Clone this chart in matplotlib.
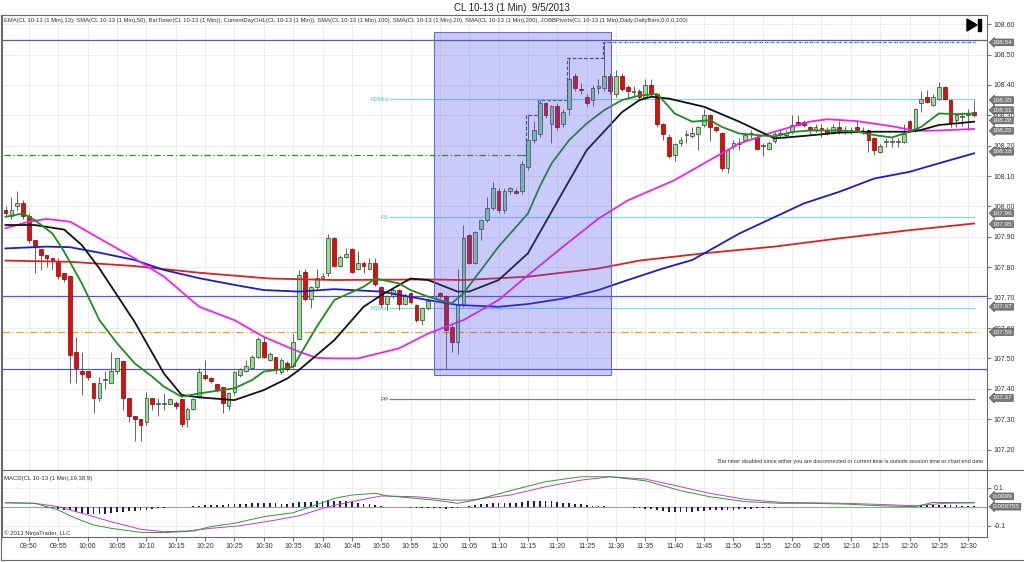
import matplotlib
matplotlib.use("Agg")
import matplotlib.pyplot as plt
from matplotlib.patches import Rectangle, Polygon
from matplotlib.lines import Line2D

plt.rcParams['font.family'] = ['Liberation Sans', 'DejaVu Sans']

# one candle per minute, first bar is 09:46
opens = [107.99, 107.97, 108.00, 108.01, 107.97, 107.89, 107.86, 107.84, 107.83, 107.82,
         107.78, 107.77, 107.52, 107.46, 107.46, 107.42, 107.37, 107.43, 107.42, 107.46,
         107.49, 107.37, 107.31, 107.30, 107.29, 107.37, 107.35, 107.35, 107.35, 107.355,
         107.365, 107.30, 107.335, 107.375, 107.445, 107.435, 107.415, 107.405, 107.345, 107.39,
         107.445, 107.46, 107.47, 107.505, 107.555, 107.495, 107.505, 107.455, 107.485, 107.475,
         107.565, 107.785, 107.695, 107.735, 107.765, 107.78, 107.895, 107.805, 107.835, 107.86,
         107.795, 107.815, 107.795, 107.815, 107.735, 107.68, 107.705, 107.725, 107.68, 107.715,
         107.675, 107.625, 107.665, 107.70, 107.715, 107.705, 107.605, 107.555, 107.675, 107.905,
         107.815, 107.925, 107.955, 107.995, 108.05, 107.99, 108.05, 108.05, 108.05, 108.13,
         108.22, 108.24, 108.34, 108.27, 108.33, 108.27, 108.32, 108.43, 108.385, 108.36,
         108.35, 108.39, 108.39, 108.43, 108.37, 108.43, 108.392, 108.377, 108.38, 108.36,
         108.40, 108.37, 108.27, 108.23, 108.17, 108.21, 108.235, 108.232, 108.24, 108.268,
         108.30, 108.262, 108.243, 108.128, 108.20, 108.207, 108.22, 108.24, 108.23, 108.20,
         108.19, 108.215, 108.24, 108.235, 108.246, 108.279, 108.279, 108.262, 108.25, 108.258,
         108.25, 108.245, 108.262, 108.25, 108.25, 108.262, 108.25, 108.25, 108.224, 108.18,
         108.212, 108.212, 108.212, 108.213, 108.28, 108.25, 108.34, 108.361, 108.334, 108.352,
         108.392, 108.35, 108.286, 108.295, 108.30, 108.31]
highs = [108.00, 108.03, 108.05, 108.02, 107.98, 107.89, 107.86, 107.84, 107.83, 107.83,
         107.78, 107.77, 107.57, 107.52, 107.46, 107.42, 107.44, 107.46, 107.52, 107.50,
         107.49, 107.37, 107.31, 107.30, 107.39, 107.37, 107.37, 107.385, 107.37, 107.36,
         107.365, 107.34, 107.37, 107.47, 107.495, 107.44, 107.415, 107.405, 107.39, 107.46,
         107.47, 107.495, 107.51, 107.57, 107.57, 107.52, 107.505, 107.50, 107.49, 107.58,
         107.79, 107.795, 107.74, 107.795, 107.78, 107.91, 107.90, 107.84, 107.865, 107.865,
         107.855, 107.82, 107.83, 107.83, 107.74, 107.71, 107.735, 107.73, 107.715, 107.72,
         107.68, 107.67, 107.695, 107.71, 107.72, 107.71, 107.61, 107.795, 107.94, 107.91,
         107.92, 107.96, 108.03, 108.08, 108.06, 108.06, 108.065, 108.06, 108.15, 108.30,
         108.28, 108.35, 108.345, 108.335, 108.34, 108.32, 108.49, 108.44, 108.405, 108.37,
         108.40, 108.42, 108.54, 108.44, 108.45, 108.44, 108.40, 108.395, 108.385, 108.42,
         108.42, 108.375, 108.275, 108.24, 108.21, 108.23, 108.25, 108.26, 108.265, 108.32,
         108.305, 108.265, 108.245, 108.19, 108.22, 108.225, 108.245, 108.25, 108.235, 108.21,
         108.215, 108.245, 108.255, 108.25, 108.30, 108.30, 108.285, 108.265, 108.27, 108.27,
         108.26, 108.27, 108.28, 108.265, 108.26, 108.28, 108.26, 108.255, 108.23, 108.205,
         108.225, 108.225, 108.225, 108.27, 108.285, 108.325, 108.38, 108.384, 108.37, 108.41,
         108.395, 108.355, 108.305, 108.31, 108.32, 108.35]
lows = [107.97, 107.96, 107.99, 107.96, 107.88, 107.78, 107.79, 107.80, 107.79, 107.76,
        107.75, 107.42, 107.42, 107.38, 107.43, 107.32, 107.36, 107.40, 107.42, 107.45,
        107.33, 107.29, 107.23, 107.23, 107.28, 107.33, 107.31, 107.33, 107.35, 107.335,
        107.275, 107.275, 107.33, 107.37, 107.43, 107.42, 107.39, 107.32, 107.33, 107.38,
        107.44, 107.455, 107.465, 107.50, 107.50, 107.49, 107.45, 107.45, 107.46, 107.47,
        107.56, 107.69, 107.665, 107.73, 107.76, 107.77, 107.80, 107.80, 107.83, 107.78,
        107.79, 107.78, 107.79, 107.74, 107.67, 107.66, 107.70, 107.66, 107.675, 107.68,
        107.62, 107.61, 107.66, 107.695, 107.70, 107.465, 107.52, 107.515, 107.67, 107.81,
        107.81, 107.89, 107.95, 107.99, 107.98, 107.98, 108.04, 108.04, 108.04, 108.12,
        108.21, 108.23, 108.29, 108.21, 108.25, 108.26, 108.30, 108.38, 108.37, 108.33,
        108.33, 108.37, 108.38, 108.37, 108.36, 108.38, 108.36, 108.36, 108.35, 108.355,
        108.365, 108.26, 108.22, 108.16, 108.15, 108.20, 108.21, 108.225, 108.185, 108.26,
        108.215, 108.245, 108.118, 108.11, 108.19, 108.185, 108.215, 108.225, 108.185, 108.165,
        108.185, 108.21, 108.225, 108.23, 108.24, 108.265, 108.26, 108.24, 108.245, 108.23,
        108.235, 108.24, 108.24, 108.24, 108.24, 108.245, 108.24, 108.18, 108.17, 108.175,
        108.195, 108.195, 108.195, 108.21, 108.245, 108.245, 108.31, 108.34, 108.33, 108.35,
        108.35, 108.26, 108.26, 108.265, 108.25, 108.295]
closes = [107.98, 107.99, 108.01, 107.97, 107.89, 107.87, 107.84, 107.83, 107.82, 107.77,
          107.76, 107.51, 107.47, 107.45, 107.44, 107.37, 107.42, 107.43, 107.46, 107.50,
          107.37, 107.31, 107.30, 107.28, 107.37, 107.35, 107.355, 107.355, 107.365, 107.345,
          107.285, 107.335, 107.365, 107.455, 107.435, 107.425, 107.395, 107.355, 107.385, 107.455,
          107.465, 107.475, 107.505, 107.565, 107.505, 107.515, 107.465, 107.495, 107.465, 107.555,
          107.775, 107.695, 107.735, 107.765, 107.77, 107.895, 107.805, 107.835, 107.845, 107.785,
          107.815, 107.805, 107.815, 107.745, 107.68, 107.705, 107.725, 107.68, 107.705, 107.685,
          107.625, 107.665, 107.69, 107.705, 107.705, 107.595, 107.555, 107.675, 107.895, 107.815,
          107.915, 107.955, 107.995, 108.06, 107.99, 108.05, 108.06, 108.045, 108.14, 108.22,
          108.25, 108.34, 108.30, 108.33, 108.26, 108.31, 108.42, 108.39, 108.383, 108.34,
          108.39, 108.395, 108.43, 108.38, 108.43, 108.385, 108.38, 108.378, 108.36, 108.40,
          108.37, 108.27, 108.24, 108.165, 108.205, 108.22, 108.238, 108.243, 108.262, 108.30,
          108.26, 108.25, 108.128, 108.186, 108.21, 108.209, 108.235, 108.242, 108.19, 108.202,
          108.21, 108.24, 108.242, 108.241, 108.268, 108.268, 108.268, 108.25, 108.26, 108.256,
          108.243, 108.262, 108.245, 108.251, 108.252, 108.25, 108.251, 108.218, 108.186, 108.20,
          108.213, 108.213, 108.213, 108.24, 108.25, 108.32, 108.352, 108.345, 108.361, 108.394,
          108.352, 108.279, 108.30, 108.296, 108.301, 108.30]

# moving averages, read at sample bars
ema13_x = [0, 3, 5, 8, 10, 13, 16, 19, 22, 25, 27, 30, 33, 39, 42, 44, 47, 49, 53, 56,
           61, 63, 67, 69, 72, 76, 78, 84, 89, 91, 93, 96, 99, 102, 105, 108, 111, 113, 114, 117,
           120, 122, 125, 128, 131, 134, 137, 142, 145, 148, 151, 154, 156, 159, 162, 165]
ema13_y = [107.966, 107.977, 107.955, 107.911, 107.851, 107.747, 107.626, 107.55, 107.484, 107.44,
           107.407, 107.374, 107.385, 107.402, 107.429, 107.457, 107.464, 107.473, 107.604, 107.692,
           107.736, 107.763, 107.747, 107.725, 107.703, 107.681, 107.714, 107.868, 107.977, 108.065,
           108.141, 108.218, 108.273, 108.317, 108.35, 108.365, 108.37, 108.328, 108.306, 108.279,
           108.284, 108.262, 108.24, 108.235, 108.23, 108.245, 108.25, 108.25, 108.246, 108.235,
           108.227, 108.246, 108.262, 108.306, 108.304, 108.306]
sma20_x = [0, 5, 10, 13, 16, 22, 27, 30, 33, 39, 44, 48, 50, 56, 61, 64, 69, 72, 77, 79,
           84, 89, 95, 99, 105, 108, 110, 113, 119, 125, 131, 136, 142, 148, 154, 156, 159, 165]
sma20_y = [107.939, 107.939, 107.924, 107.873, 107.796, 107.62, 107.45, 107.38, 107.372, 107.363,
           107.396, 107.434, 107.462, 107.56, 107.67, 107.708, 107.763, 107.758, 107.72, 107.72,
           107.758, 107.846, 108.05, 108.185, 108.31, 108.35, 108.361, 108.355, 108.328, 108.279,
           108.224, 108.232, 108.243, 108.246, 108.246, 108.252, 108.268, 108.279]
sma50_x = [0, 4, 7, 11, 16, 19, 22, 27, 33, 39, 44, 50, 53, 56, 60, 67, 72, 78, 84, 89,
           95, 101, 106, 112, 114, 120, 125, 131, 137, 140, 145, 151, 155, 159, 165]
sma50_y = [107.928, 107.95, 107.959, 107.95, 107.895, 107.862, 107.829, 107.769, 107.67, 107.626,
           107.571, 107.522, 107.502, 107.5, 107.5, 107.533, 107.582, 107.626, 107.692, 107.774,
           107.868, 107.96, 108.02, 108.07, 108.087, 108.153, 108.207, 108.246, 108.279, 108.287,
           108.281, 108.264, 108.249, 108.25, 108.255]
sma100_x = [0, 7, 11, 16, 22, 27, 33, 39, 44, 50, 56, 64, 72, 77, 84, 89, 95, 101, 106, 112,
            117, 125, 136, 142, 148, 154, 159, 165]
sma100_y = [107.862, 107.868, 107.866, 107.848, 107.824, 107.791, 107.764, 107.742, 107.725, 107.72,
            107.728, 107.72, 107.692, 107.676, 107.67, 107.679, 107.697, 107.725, 107.758, 107.796,
            107.824, 107.911, 108.01, 108.048, 108.092, 108.114, 108.142, 108.175]
sma200_x = [0, 11, 22, 33, 45, 56, 72, 78, 89, 101, 108, 119, 131, 142, 154, 165]
sma200_y = [107.822, 107.818, 107.804, 107.782, 107.763, 107.758, 107.76, 107.758, 107.769, 107.796,
            107.822, 107.846, 107.868, 107.895, 107.922, 107.944]

# MACD(19,38,9)
macd_x = [0, 5, 9, 12, 15, 18, 23, 27, 32, 35, 39, 44, 49, 52, 56, 59, 63, 65, 70, 74,
          77, 80, 86, 92, 98, 103, 109, 115, 120, 126, 132, 137, 143, 149, 155, 158, 165]
macd_y = [0.021, 0.018, -0.018, -0.062, -0.097, -0.115, -0.136, -0.138, -0.129, -0.106,
          -0.088, -0.053, -0.032, 0.0, 0.044, 0.062, 0.071, 0.058, 0.044, 0.032,
          0.018, 0.035, 0.085, 0.133, 0.159, 0.159, 0.138, 0.085, 0.053, 0.027,
          0.018, 0.018, 0.014, 0.005, 0.0, 0.023, 0.021]
sig_x = [0, 5, 9, 13, 18, 23, 27, 31, 35, 40, 46, 50, 55, 59, 64, 70, 76, 79, 86, 92,
         98, 103, 109, 115, 120, 126, 132, 143, 149, 155, 160, 165]
sig_y = [0.021, 0.018, 0.0, -0.035, -0.08, -0.12, -0.133, -0.129, -0.115, -0.101,
         -0.071, -0.048, 0.0, 0.027, 0.057, 0.053, 0.035, 0.035, 0.062, 0.106,
         0.141, 0.159, 0.147, 0.106, 0.071, 0.039, 0.023, 0.018, 0.012, 0.005, 0.018, 0.021]
macd_hist = [-0.002, -0.002, -0.002, -0.002, -0.002, -0.003, -0.004, -0.006, -0.009, -0.012,
             -0.016, -0.02, -0.026, -0.032, -0.037, -0.04, -0.04, -0.037, -0.033, -0.03,
             -0.027, -0.025, -0.022, -0.02, -0.016, -0.012, -0.008, -0.006, -0.004, -0.002,
             -0.001, 0.0, 0.002, 0.005, 0.007, 0.009, 0.01, 0.011, 0.012, 0.013,
             0.014, 0.016, 0.018, 0.02, 0.022, 0.02, 0.018, 0.017, 0.016, 0.018,
             0.025, 0.027, 0.027, 0.03, 0.032, 0.035, 0.032, 0.03, 0.028, 0.025,
             0.02, 0.016, 0.012, 0.008, 0.004, 0.001, -0.001, -0.003, -0.004, -0.005,
             -0.006, -0.006, -0.007, -0.008, -0.008, -0.01, -0.009, -0.007, 0.0, 0.003,
             0.008, 0.012, 0.016, 0.018, 0.02, 0.022, 0.022, 0.022, 0.025, 0.028,
             0.03, 0.032, 0.03, 0.028, 0.025, 0.022, 0.02, 0.016, 0.012, 0.008,
             0.005, 0.003, 0.002, 0.001, 0.0, -0.001, -0.003, -0.005, -0.007, -0.01,
             -0.013, -0.017, -0.022, -0.026, -0.03, -0.03, -0.028, -0.026, -0.024, -0.022,
             -0.02, -0.019, -0.018, -0.017, -0.015, -0.013, -0.011, -0.01, -0.008, -0.007,
             -0.006, -0.005, -0.004, -0.003, -0.002, -0.001, -0.001, -0.001, -0.001, -0.001,
             -0.001, -0.001, -0.001, -0.001, -0.001, -0.001, -0.001, -0.004, -0.004, -0.004,
             -0.004, -0.004, -0.004, -0.004, -0.004, -0.004, 0.008, 0.008, 0.008, 0.008,
             0.008, 0.008, 0.008, 0.003, 0.003, 0.003]

# levels
pivot_names = ['R2Mid', 'R1', 'R1Mid', 'PP']
pivot_vals = [108.353, 107.965, 107.665, 107.365]
drawn_lines = [108.547, 107.705, 107.465]
open_line = 107.587
prior_high = 108.17
hi_step_bars = [88.7, 90.7, 95.6, 101.8]
hi_step_vals = [108.30, 108.35, 108.49, 108.54]
box_t0, box_t1, box_lo, box_hi = 73.0, 103.15, 107.445, 108.574

price_ticks = [107.2, 107.3, 107.4, 107.5, 107.6, 107.7, 107.8, 107.9,
               108.0, 108.1, 108.2, 108.3, 108.4, 108.5, 108.6]
flag_labels = ['108.54', '108.35', '108.31', '108.28', '108.25', '108.18',
               '107.96', '107.95', '107.67', '107.59', '107.37']
flag_pos = [108.54, 108.35, 108.317, 108.283, 108.249, 108.18,
            107.978, 107.942, 107.67, 107.587, 107.37]
time_labels = ['09:50', '09:55', '10:00', '10:05', '10:10', '10:15', '10:20', '10:25', '10:30',
               '10:35', '10:40', '10:45', '10:50', '10:55', '11:00', '11:05', '11:10', '11:15',
               '11:20', '11:25', '11:30', '11:35', '11:40', '11:45', '11:50', '11:55', '12:00',
               '12:05', '12:10', '12:15', '12:20', '12:25', '12:30']
tick_pos = [int(t[:2]) * 60 + int(t[3:]) - (9 * 60 + 46) for t in time_labels]

W, H = 1024, 562
fig = plt.figure(figsize=(10.24, 5.62), dpi=100)
ax = fig.add_axes([2 / W, 92 / H, 985 / W, 455 / H])
axm = fig.add_axes([2 / W, 25 / H, 985 / W, 67 / H])

for a in (ax, axm):
    a.set_xlim(-0.6, 167.2)
    a.set_xticks(tick_pos)
    a.grid(True, color='#ebebeb', lw=0.6, zorder=0)
    a.set_axisbelow(True)
    a.yaxis.tick_right()
    for s in a.spines.values():
        s.set_color('#6a6a6a')
        s.set_linewidth(0.8)
    a.tick_params(axis='y', labelsize=5, length=3, color='#777777', labelcolor='#333333', pad=1.5)

ax.set_ylim(107.133, 108.63)
ax.set_yticks(price_ticks)
ax.set_yticklabels(['%.2f' % p for p in price_ticks])
ax.tick_params(axis='x', length=0, labelbottom=False)

# candles
for i, (o, h, l, c) in enumerate(zip(opens, highs, lows, closes)):
    up = c >= o
    ax.vlines(i, l, h, color='#4a4a4a', lw=0.6, zorder=3)
    ax.add_patch(Rectangle((i - 0.32, min(o, c)), 0.64, max(abs(c - o), 0.003),
                           fc='#90e090' if up else '#d81010',
                           ec='#3a3a3a' if up else '#8a0000', lw=0.5, zorder=4))

# levels
for v in drawn_lines:
    ax.axhline(v, color='#5a5aa8', lw=0.9, zorder=2)
ax.hlines(open_line, -0.6, 165.8, color='#f0a020', lw=0.9, linestyles=(0, (6, 2, 1, 2)), zorder=2)
ax.hlines(prior_high, -0.3, hi_step_bars[0] - 0.5, color='#2e8b2e', lw=0.9,
          linestyles=(0, (5, 2, 1, 2)), zorder=2)
ax.step([hi_step_bars[0] - 0.5] + hi_step_bars + [165.2],
        [prior_high] + hi_step_vals + [hi_step_vals[-1]], where='post',
        color='#3c5a78', lw=0.9, ls=(0, (3, 1.5)), zorder=2)
ax.hlines(hi_step_vals[-1], hi_step_bars[-1], 165.2, color='#7fe0ea', lw=0.9, ls=(0, (1, 1)), zorder=2)
for name, v in zip(pivot_names, pivot_vals):
    col = '#808080' if name == 'PP' else '#80dde8'
    ax.hlines(v, 65.4, 165.2, color=col, lw=0.9, zorder=2)
    ax.text(65.2, v, name, ha='right', va='center', fontsize=4.5,
            color='#555555' if name == 'PP' else '#4cc8da', zorder=2)

# moving averages
ax.plot(sma200_x, sma200_y, color='#dd2020', lw=1.3, zorder=5)
ax.plot(sma100_x, sma100_y, color='#1c1cc8', lw=1.3, zorder=5)
ax.plot(sma50_x, sma50_y, color='#ee22ee', lw=1.3, zorder=5)
ax.plot(sma20_x, sma20_y, color='#111111', lw=1.3, zorder=5)
ax.plot(ema13_x, ema13_y, color='#1e8c1e', lw=1.3, zorder=5)

ax.add_patch(Rectangle((box_t0, box_lo), box_t1 - box_t0, box_hi - box_lo,
                       fc='#5050ee', alpha=0.3, ec='none', zorder=6))
ax.add_patch(Rectangle((box_t0, box_lo), box_t1 - box_t0, box_hi - box_lo,
                       fc='none', ec='#6a6ad0', lw=0.8, zorder=6))

for v, lab in zip(flag_pos, flag_labels):
    ax.text(1.006, v, lab, transform=ax.get_yaxis_transform(), ha='left', va='center',
            fontsize=4.6, color='#f2f2f2', clip_on=False, zorder=10,
            bbox=dict(boxstyle='larrow,pad=0.13', fc='#7c7c7c', ec='#505050', lw=0.5))

ax.text(0.002, 0.988, 'EMA(CL 10-13 (1 Min),13), SMA(CL 10-13 (1 Min),50), BarTimer(CL 10-13 (1 Min)), '
        'CurrentDayOHL(CL 10-13 (1 Min)), SMA(CL 10-13 (1 Min),100), SMA(CL 10-13 (1 Min),20), '
        'SMA(CL 10-13 (1 Min),200), JOBBPivots(CL 10-13 (1 Min),Daily,DailyBars,0,0,0,100)',
        transform=ax.transAxes, ha='left', va='center', fontsize=4.2, color='#333333', zorder=10)
ax.text(0.996, 0.018, 'Bar timer disabled since either you are disconnected or current time is '
        'outside session time or chart end date', transform=ax.transAxes, ha='right',
        va='center', fontsize=4.0, color='#333333', zorder=10)

# MACD panel
axm.set_ylim(-0.161, 0.195)
axm.set_yticks([-0.1, 0.1])
axm.set_yticklabels(['-0.1', '0.1'])
axm.axhline(0, color='#a0a0a0', lw=0.8, zorder=1)
axm.bar(range(len(macd_hist)), macd_hist, width=0.3, color='#1a1a6e', zorder=3)
axm.plot(sig_x, sig_y, color='#c040c8', lw=0.7, zorder=4)
axm.plot(macd_x, macd_y, color='#2e9a2e', lw=0.7, zorder=4)
axm.set_xticklabels(time_labels)
axm.tick_params(axis='x', labelsize=5, length=3, color='#777777', labelcolor='#333333', pad=1.5)
axm.text(0.002, 0.87, 'MACD(CL 10-13 (1 Min),19,38,9)', transform=axm.transAxes,
         ha='left', va='center', fontsize=4.3, color='#333333')
axm.text(0.002, 0.06, '\u00a9 2013 NinjaTrader, LLC', transform=axm.transAxes,
         ha='left', va='center', fontsize=4.3, color='#333333')
for v, lab in [(0.055, '0.0099'), (0.0, '0.000755')]:
    axm.text(1.006, v, lab, transform=axm.get_yaxis_transform(), ha='left', va='center',
             fontsize=4.6, color='#f2f2f2', clip_on=False, zorder=10,
             bbox=dict(boxstyle='larrow,pad=0.13', fc='#7c7c7c', ec='#505050', lw=0.5))

fig.text(0.5, 1 - 8 / H, 'CL 10-13 (1 Min)  9/5/2013', ha='center', va='center', fontsize=7, color='#222222')

# bar timer play icon and outer frame
fig.add_artist(Polygon([[967 / W, 1 - 19 / H], [967 / W, 1 - 31 / H], [977 / W, 1 - 25 / H]],
                       closed=True, transform=fig.transFigure, color='black'))
fig.add_artist(Rectangle((978 / W, 1 - 31 / H), 3 / W, 12 / H, transform=fig.transFigure, color='black'))
fig.add_artist(Line2D([1 / W, 1 / W], [1 - 15 / H, 1 - 560 / H], transform=fig.transFigure,
                      color='#6a6a6a', lw=0.8))
fig.add_artist(Line2D([1 / W, 1023 / W], [1 - 560 / H, 1 - 560 / H], transform=fig.transFigure,
                      color='#6a6a6a', lw=0.8))
fig.add_artist(Line2D([987 / W, 1023 / W], [1 - 470 / H, 1 - 470 / H], transform=fig.transFigure,
                      color='#6a6a6a', lw=0.8))

fig.savefig('out.png', dpi=100)
